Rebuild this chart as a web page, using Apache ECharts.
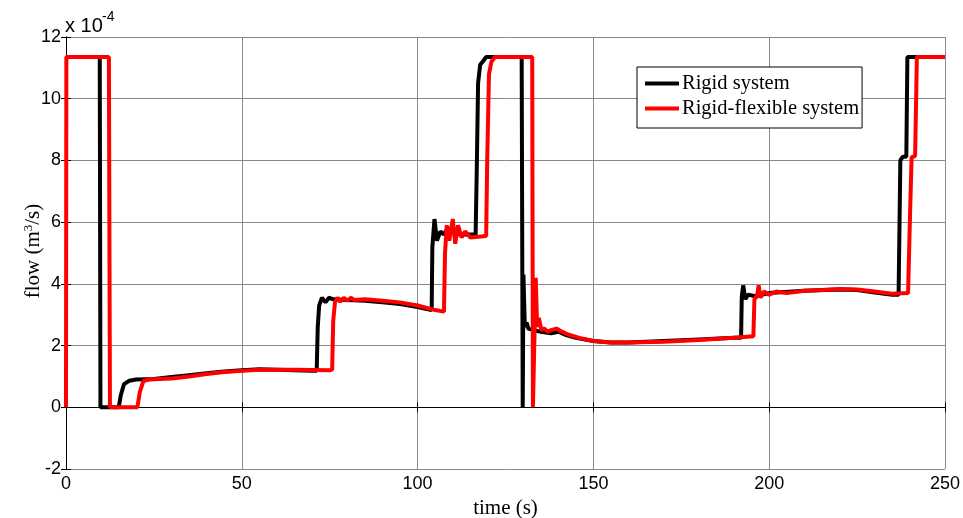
<!DOCTYPE html>
<html>
<head>
<meta charset="utf-8">
<script src="https://cdn.jsdelivr.net/npm/echarts@6/dist/echarts.min.js"></script>
<style>
  html, body { margin: 0; padding: 0; background: #fff; }
  #chart { width: 963px; height: 518px; }
</style>
</head>
<body>
<div id="chart"></div>
<script>
// Flow values are in units of 1e-4 m^3/s; time in seconds.
const xTicks = [0, 50, 100, 150, 200, 250];
const yTicks = [-2, 0, 2, 4, 6, 8, 10, 12];

const rigidFlow = [
  [0, 11.35], [9.6, 11.35], [9.8, 0], [15, 0], [15.6, 0.4], [16.5, 0.75], [18, 0.86], [20, 0.9],
  [25, 0.92], [30, 0.98], [35, 1.04], [40, 1.1], [45, 1.16], [50, 1.2], [55, 1.23], [60, 1.22],
  [65, 1.2], [70, 1.18], [71.3, 1.18], [71.6, 2.6], [72, 3.3], [72.8, 3.55], [73.8, 3.4],
  [74.8, 3.55], [76, 3.5], [80, 3.48], [85, 3.45], [90, 3.4], [95, 3.35], [100, 3.25],
  [104, 3.15], [104.2, 5.2], [104.8, 6.1], [105.5, 5.4], [106.5, 5.7], [107.5, 5.6],
  [108.5, 5.8], [110, 5.7], [112, 5.6], [116.5, 5.6], [116.8, 7.5], [117.2, 10.5],
  [117.8, 11.1], [118.5, 11.2], [119.5, 11.35], [129.6, 11.35], [129.9, 0], [130.1, 4.3],
  [130.5, 2.6], [131, 2.75], [131.5, 2.55], [133, 2.5], [135, 2.45], [138, 2.4], [140, 2.45],
  [142, 2.35], [145, 2.25], [150, 2.15], [155, 2.1], [160, 2.1], [170, 2.15], [180, 2.2],
  [190, 2.25], [192, 2.25], [192.2, 3.6], [192.6, 3.95], [193.2, 3.5], [194, 3.65],
  [196, 3.6], [200, 3.7], [210, 3.78], [220, 3.82], [225, 3.8], [230, 3.72], [235, 3.65],
  [236.8, 3.65], [237.3, 8.0], [238, 8.12], [239, 8.12], [239.3, 11.35], [250, 11.35]
];

const flexibleFlow = [
  [0, 0], [0.1, 11.35], [12.2, 11.35], [12.5, 0], [20.3, 0], [21, 0.5], [22, 0.85],
  [23.5, 0.9], [30, 0.93], [35, 1.0], [40, 1.08], [45, 1.14], [50, 1.18], [55, 1.22],
  [60, 1.22], [65, 1.22], [70, 1.21], [75, 1.2], [75.7, 1.22], [76, 2.8], [76.5, 3.4],
  [77.2, 3.55], [78, 3.42], [79, 3.55], [80, 3.45], [81, 3.55], [82, 3.48], [85, 3.5],
  [90, 3.45], [95, 3.4], [100, 3.3], [105, 3.15], [107.5, 3.1], [107.8, 5.0], [108.3, 5.9],
  [109, 5.4], [110, 6.1], [110.7, 5.3], [111.5, 5.9], [112.5, 5.5], [113.5, 5.7], [115, 5.5],
  [119.5, 5.55], [119.8, 8], [120.3, 10.8], [121, 11.2], [122, 11.35], [132.6, 11.35],
  [132.8, 0], [133.2, 0], [133.6, 4.2], [134, 2.6], [134.5, 2.9], [135.2, 2.5], [136, 2.55],
  [137, 2.45], [138, 2.5], [139.5, 2.55], [141, 2.45], [143, 2.35], [146, 2.25], [150, 2.15],
  [155, 2.1], [160, 2.1], [170, 2.12], [180, 2.18], [190, 2.25], [195.5, 2.3], [195.8, 3.5],
  [196.5, 3.6], [197, 3.95], [197.5, 3.55], [198.5, 3.75], [200, 3.65], [202, 3.75],
  [205, 3.7], [210, 3.78], [215, 3.8], [220, 3.83], [225, 3.82], [230, 3.75], [235, 3.68],
  [239.5, 3.7], [240, 6], [240.5, 8.1], [241.5, 8.15], [242, 11.35], [250, 11.35]
];

const SANS = 'Liberation Sans, Arial, sans-serif';
const SERIF = 'Liberation Serif, Times New Roman, serif';

const chart = echarts.init(document.getElementById('chart'), null, { renderer: 'canvas' });

const gridLine = { show: true, lineStyle: { color: '#8a8a8a', width: 1 } };
const tickIn = { show: true, inside: true, length: 5, lineStyle: { color: '#000' } };

chart.setOption({
  animation: false,
  backgroundColor: '#fff',
  grid: { left: 66, right: 18, top: 37, bottom: 49, containLabel: false, outerBoundsMode: 'none' },
  legend: {
    orient: 'vertical',
    left: 637,
    top: 67,
    padding: [6, 3, 9, 8],
    itemGap: 4,
    itemWidth: 34,
    itemHeight: 4,
    icon: 'rect',
    backgroundColor: '#fff',
    borderColor: '#000',
    borderWidth: 1,
    borderRadius: 0,
    textStyle: { fontFamily: SERIF, fontSize: 20.5, color: '#000', padding: [0, 0, 0, -2] },
    data: ['Rigid system', 'Rigid-flexible system']
  },
  xAxis: [{
    type: 'value', min: xTicks[0], max: xTicks[xTicks.length - 1], interval: 50,
    name: 'time (s)', nameLocation: 'middle', nameGap: 28,
    nameTextStyle: { fontFamily: SERIF, fontSize: 21, color: '#000' },
    axisLine: { show: true, lineStyle: { color: '#000', width: 1 } },
    axisTick: tickIn,
    axisLabel: { fontFamily: SANS, fontSize: 18, color: '#000', margin: 6 },
    splitLine: gridLine
  }, {
    type: 'value', position: 'top', min: xTicks[0], max: xTicks[xTicks.length - 1], interval: 50,
    axisLine: { show: true, lineStyle: { color: '#000', width: 1 } },
    axisTick: tickIn, axisLabel: { show: false }, splitLine: { show: false }
  }],
  yAxis: [{
    type: 'value', min: yTicks[0], max: yTicks[yTicks.length - 1], interval: 2,
    axisLine: { show: true, lineStyle: { color: '#000', width: 1 } },
    axisTick: tickIn,
    axisLabel: { fontFamily: SANS, fontSize: 18, color: '#000', margin: 5 },
    splitLine: gridLine
  }, {
    type: 'value', position: 'right', min: yTicks[0], max: yTicks[yTicks.length - 1], interval: 2,
    axisLine: { show: true, lineStyle: { color: '#000', width: 1 } },
    axisTick: tickIn, axisLabel: { show: false }, splitLine: { show: false }
  }],
  graphic: [{
    // y-axis title with superscript
    type: 'text', x: 29, y: 251, rotation: Math.PI / 2,
    style: {
      text: '{a|flow (m}{s|3}{a|/s)}',
      align: 'center', verticalAlign: 'middle',
      rich: {
        a: { fontFamily: SERIF, fontSize: 21, fill: '#000', padding: [8, 0, 0, 0] },
        s: { fontFamily: SERIF, fontSize: 13, fill: '#000' }
      }
    }
  }, {
    // exponent marker above the y axis
    type: 'text', x: 65, y: 26,
    style: { text: 'x 10', fontFamily: SANS, fontSize: 20, fill: '#000', align: 'left', verticalAlign: 'middle' }
  }, {
    type: 'text', x: 102, y: 17,
    style: { text: '-4', fontFamily: SANS, fontSize: 14, fill: '#000', align: 'left', verticalAlign: 'middle' }
  }],
  series: [{
    name: 'Rigid system', type: 'line', data: rigidFlow, showSymbol: false,
    xAxisIndex: 0, yAxisIndex: 0,
    lineStyle: { color: '#000', width: 4 }, itemStyle: { color: '#000' }, z: 2
  }, {
    name: 'Rigid-flexible system', type: 'line', data: flexibleFlow, showSymbol: false,
    xAxisIndex: 0, yAxisIndex: 0,
    lineStyle: { color: '#ff0000', width: 4 }, itemStyle: { color: '#ff0000' }, z: 3
  }]
});
</script>
</body>
</html>
